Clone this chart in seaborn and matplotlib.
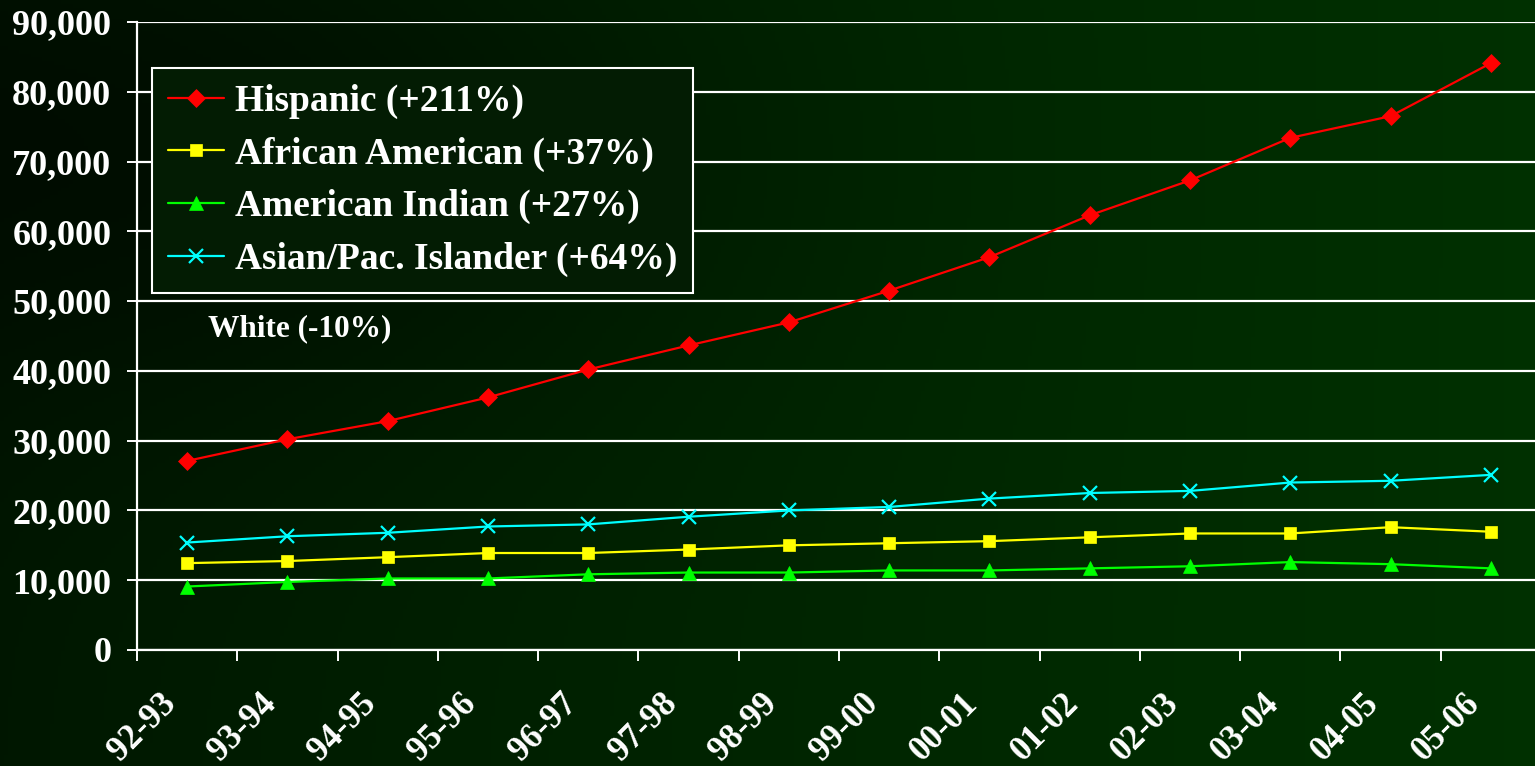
import numpy as np
import pandas as pd
import matplotlib
matplotlib.use("Agg")
import matplotlib.pyplot as plt
import matplotlib.transforms as mtransforms
from matplotlib.ticker import StrMethodFormatter, FixedLocator
import seaborn as sns

# =========================
# DATA
# =========================
years = ["92-93", "93-94", "94-95", "95-96", "96-97", "97-98", "98-99",
         "99-00", "00-01", "01-02", "02-03", "03-04", "04-05", "05-06"]

hispanic = [27100, 30200, 32800, 36200, 40200, 43650, 46950,
            51500, 56300, 62300, 67300, 73400, 76500, 84100]
african_american = [12450, 12750, 13300, 13900, 13900, 14400, 15000,
                    15300, 15600, 16150, 16700, 16700, 17600, 16950]
american_indian = [9100, 9750, 10250, 10250, 10850, 11100, 11100,
                   11400, 11400, 11700, 12000, 12600, 12300, 11700]
asian_pac = [15400, 16300, 16800, 17700, 18000, 19100, 20000,
             20500, 21700, 22500, 22800, 24000, 24250, 25100]

series_labels = ["Hispanic (+211%)", "African American (+37%)",
                 "American Indian (+27%)", "Asian/Pac. Islander (+64%)"]
white_note = "White (-10%)"
y_ticks = [0, 10000, 20000, 30000, 40000, 50000, 60000, 70000, 80000, 90000]

# =========================
# STYLE
# =========================
sns.set_style("ticks")
plt.rcParams["font.family"] = ["Liberation Serif", "DejaVu Serif"]
plt.rcParams["font.weight"] = "bold"

W, H = 1535, 766
fig = plt.figure(figsize=(W / 100, H / 100), dpi=100)

# dark green gradient background
gx = np.linspace(0, 1, 400)
gy = np.linspace(0, 1, 200)
X, Y = np.meshgrid(gx, gy)
g = 0.09 + 0.10 * X ** 0.9
g -= 0.05 * np.exp(-(((X - 0.15) / 0.35) ** 2 + ((Y - 0.2) / 0.35) ** 2))
g = np.clip(g, 0.03, 0.2)
bg_img = np.dstack([np.zeros_like(g), g, np.zeros_like(g)])
bg = fig.add_axes([0, 0, 1, 1], zorder=-1)
bg.imshow(bg_img, aspect="auto", extent=[0, 1, 0, 1], origin="upper")
bg.axis("off")

ax_left, ax_right, ax_top, ax_bot = 137, 1541, 22, 650
ax = fig.add_axes([ax_left / W, (H - ax_bot) / H,
                   (ax_right - ax_left) / W, (ax_bot - ax_top) / H])
ax.set_facecolor("none")

df = pd.DataFrame({"idx": np.arange(len(years))})
styles = [
    (hispanic, "#ff0000", "D", 9),
    (african_american, "#ffff00", "s", 9),
    (american_indian, "#00ff00", "^", 10),
    (asian_pac, "#00ffff", "x", 10),
]
for (vals, color, marker, ms), label in zip(styles, series_labels):
    sns.lineplot(x=df["idx"], y=vals, ax=ax, color=color, marker=marker,
                 markersize=ms, markeredgecolor=color,
                 markeredgewidth=1.6 if marker == "x" else 0.5,
                 linewidth=1.6, label=label)

ax.set_xlim(-0.5, len(years) - 0.5)
ax.set_ylim(0, 90000)
ax.set_yticks(y_ticks)
ax.yaxis.set_major_formatter(StrMethodFormatter("{x:,.0f}"))
ax.grid(axis="y", color="white", linewidth=1.6)
ax.set_axisbelow(True)

for s in ["top", "right"]:
    ax.spines[s].set_visible(False)
for s in ["left", "bottom"]:
    ax.spines[s].set_color("white")
    ax.spines[s].set_linewidth(1.6)

ax.tick_params(axis="y", colors="white", length=7, width=1.4, labelsize=26, pad=11.5)

# tick marks between categories, labels at category centres
ax.set_xticks(np.arange(len(years)))
ax.set_xticklabels(years)
ax.xaxis.set_minor_locator(FixedLocator(np.arange(len(years) + 1) - 0.5))
ax.tick_params(axis="x", which="major", length=0, colors="white", labelsize=25, pad=27)
ax.tick_params(axis="x", which="minor", length=8, width=1.4, color="white")
offset = mtransforms.ScaledTranslation(-28 / 100, 0, fig.dpi_scale_trans)
for lbl in ax.get_xticklabels():
    lbl.set_rotation(45)
    lbl.set_rotation_mode("anchor")
    lbl.set_ha("right")
    lbl.set_va("top")
    lbl.set_fontweight("bold")
    lbl.set_transform(lbl.get_transform() + offset)
for lbl in ax.get_yticklabels():
    lbl.set_fontweight("bold")

ax.set_xlabel("")
ax.set_ylabel("")

leg = ax.legend(loc="upper left", bbox_to_anchor=((152 - ax_left) / (ax_right - ax_left),
                                                  1 - (68 - ax_top) / (ax_bot - ax_top)),
                fontsize=27, frameon=True, fancybox=False, labelspacing=0.47,
                handlelength=1.5, handletextpad=0.3, borderpad=0.42, borderaxespad=0)
frame = leg.get_frame()
frame.set_facecolor("#031c03")
frame.set_edgecolor("white")
frame.set_linewidth(1.5)
frame.set_alpha(1)
for t in leg.get_texts():
    t.set_color("white")
    t.set_fontweight("bold")

ax.text(0.21, 46100, white_note, color="white", fontsize=22.5, fontweight="bold",
        ha="left", va="center")

fig.savefig("out.png", dpi=100, facecolor="#001a00")
